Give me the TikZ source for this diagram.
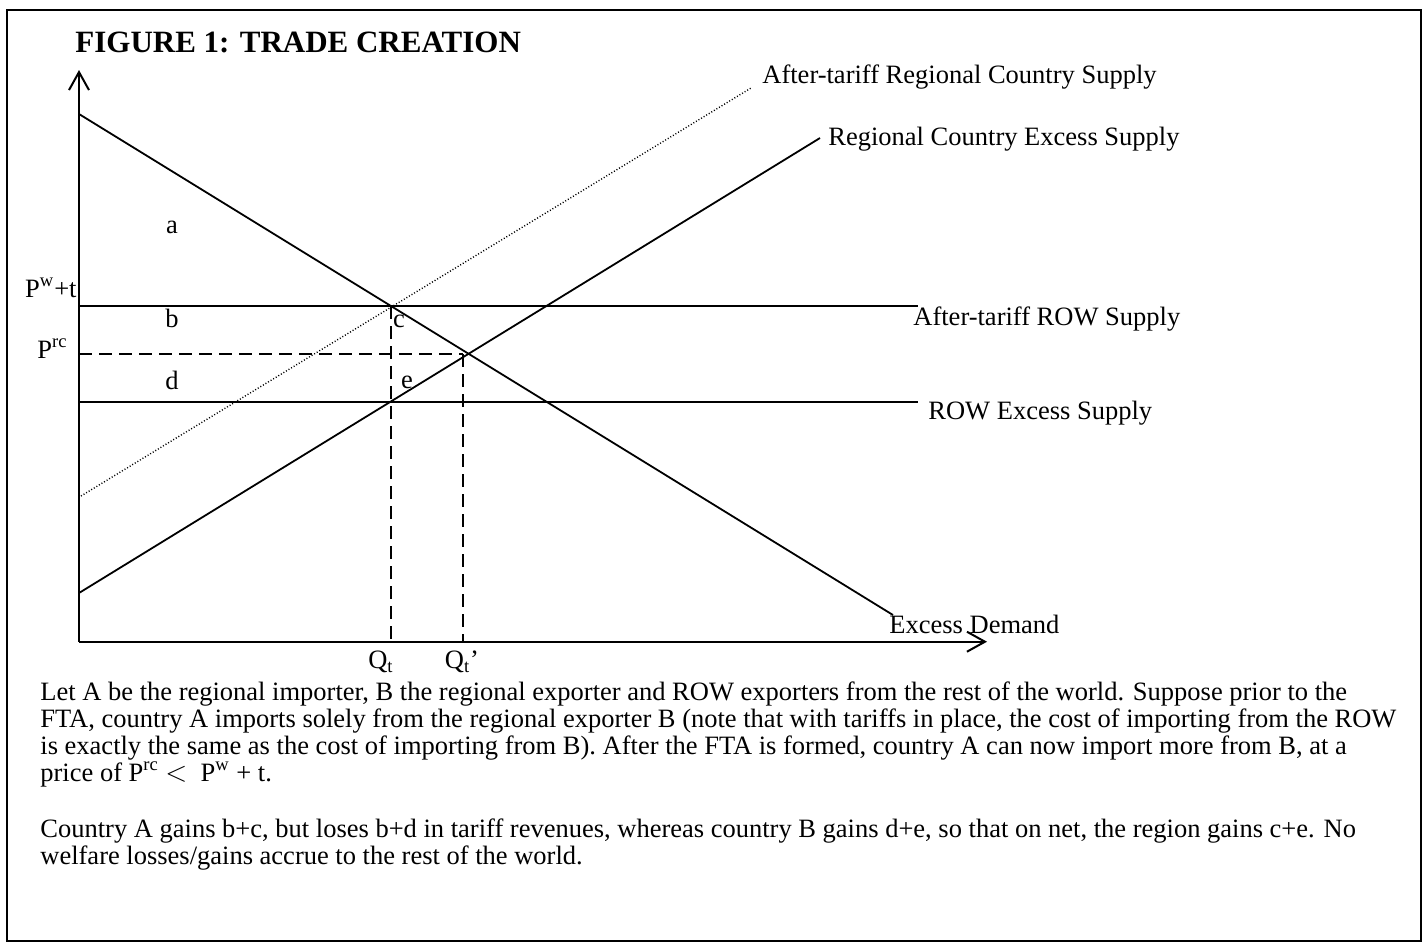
\documentclass[tikz,border=0pt]{standalone}
\usepackage{fontspec}
\setmainfont{Liberation Serif}
\usetikzlibrary{arrows.meta}
\begin{document}
\begin{tikzpicture}[x=0.5pt,y=-0.5pt,
  curve/.style={line width=0.9pt},
  axis/.style={line width=1pt,-{Straight Barb[length=9pt,width=10pt,line width=1pt]}},
  dashline/.style={line width=0.9pt,dash pattern=on 6.5pt off 3.5pt},
  dotline/.style={line width=0.7pt,dash pattern=on 0.5pt off 1pt},
  lbl/.style={font=\fontsize{13.25}{15}\selectfont, inner sep=0pt},
  body/.style={font=\fontsize{13.25}{13.5}\selectfont, inner sep=0pt, anchor=base west, align=left},
]
\useasboundingbox (0,0) rectangle (1427,948);
\draw[line width=1pt] (7,10) rectangle (1421,941);
\node[anchor=base west, inner sep=0pt, font=\fontsize{15.5}{18}\selectfont\bfseries] (title) at (75,52) {FIGURE 1: TRADE CREATION};
% coordinates
\coordinate (O) at (79,641.7);
\coordinate (Ytop) at (79,70);
\coordinate (Xend) at (987,641.7);
\coordinate (D1) at (79,114);
\coordinate (D2) at (893,615);
\coordinate (S1) at (79,593);
\coordinate (S2) at (820,138);
\coordinate (T1) at (81,496);
\coordinate (T2) at (751,88);
\coordinate (PT1) at (79,306);
\coordinate (PT2) at (918,306);
\coordinate (PW1) at (79,401.7);
\coordinate (PW2) at (918,401.7);
\coordinate (PR1) at (79,354);
\coordinate (PR2) at (463,354);
\coordinate (QT) at (390.7,641.7);
\coordinate (QTtop) at (390.7,306);
\coordinate (QP) at (463,641.7);
% axes
\draw[axis] (O) -- (Ytop);
\draw[axis] (O) -- (Xend);
% lines
\draw[curve] (D1) -- (D2);
\draw[curve] (S1) -- (S2);
\draw[dotline] (T1) -- (T2);
\draw[curve] (PT1) -- (PT2);
\draw[curve] (PW1) -- (PW2);
\draw[dashline] (PR1) -- (PR2);
\draw[dashline] (QTtop) -- (QT);
\draw[dashline] (PR2) -- (QP);
% labels
\node[lbl, anchor=base west] (lT) at (762,83) {After-tariff Regional Country Supply};
\node[lbl, anchor=base west] (lS) at (828,145) {Regional Country Excess Supply};
\node[lbl, anchor=base west] (lPT) at (913,325) {After-tariff ROW Supply};
\node[lbl, anchor=base west] (lPW) at (928,419) {ROW Excess Supply};
\node[lbl, anchor=base west] (lD) at (889,633) {Excess Demand};
\node[lbl, anchor=base east] (pwt) at (77,297) {P\textsuperscript{w}+t};
\node[lbl, anchor=base east] (prc) at (68,358) {P\textsuperscript{rc}};
\node[lbl, anchor=base] (qt) at (381,668) {Q\textsubscript{t}};
\node[lbl, anchor=base] (qtp) at (462,668) {Q\textsubscript{t}’};
\node[lbl, anchor=base] (la) at (172,233) {a};
\node[lbl, anchor=base] (lb) at (172,327) {b};
\node[lbl, anchor=base] (lc) at (399,327) {c};
\node[lbl, anchor=base] (ld) at (172,389) {d};
\node[lbl, anchor=base] (le) at (407,388) {e};
% body text (base anchor = baseline of the last line)
\node[body] (p1) at (40,781) {Let A be the regional importer, B the regional exporter and ROW exporters from the rest of the world. Suppose prior to the\\
FTA, country A imports solely from the regional exporter B (note that with tariffs in place, the cost of importing from the ROW\\
is exactly the same as the cost of importing from B). After the FTA is formed, country A can now import more from B, at a\\
price of P\textsuperscript{rc} $<$\ \ P\textsuperscript{w} + t.};
\node[body] (p2) at (40,864) {Country A gains b+c, but loses b+d in tariff revenues, whereas country B gains d+e, so that on net, the region gains c+e. No\\
welfare losses/gains accrue to the rest of the world.};
\end{tikzpicture}
\end{document}
